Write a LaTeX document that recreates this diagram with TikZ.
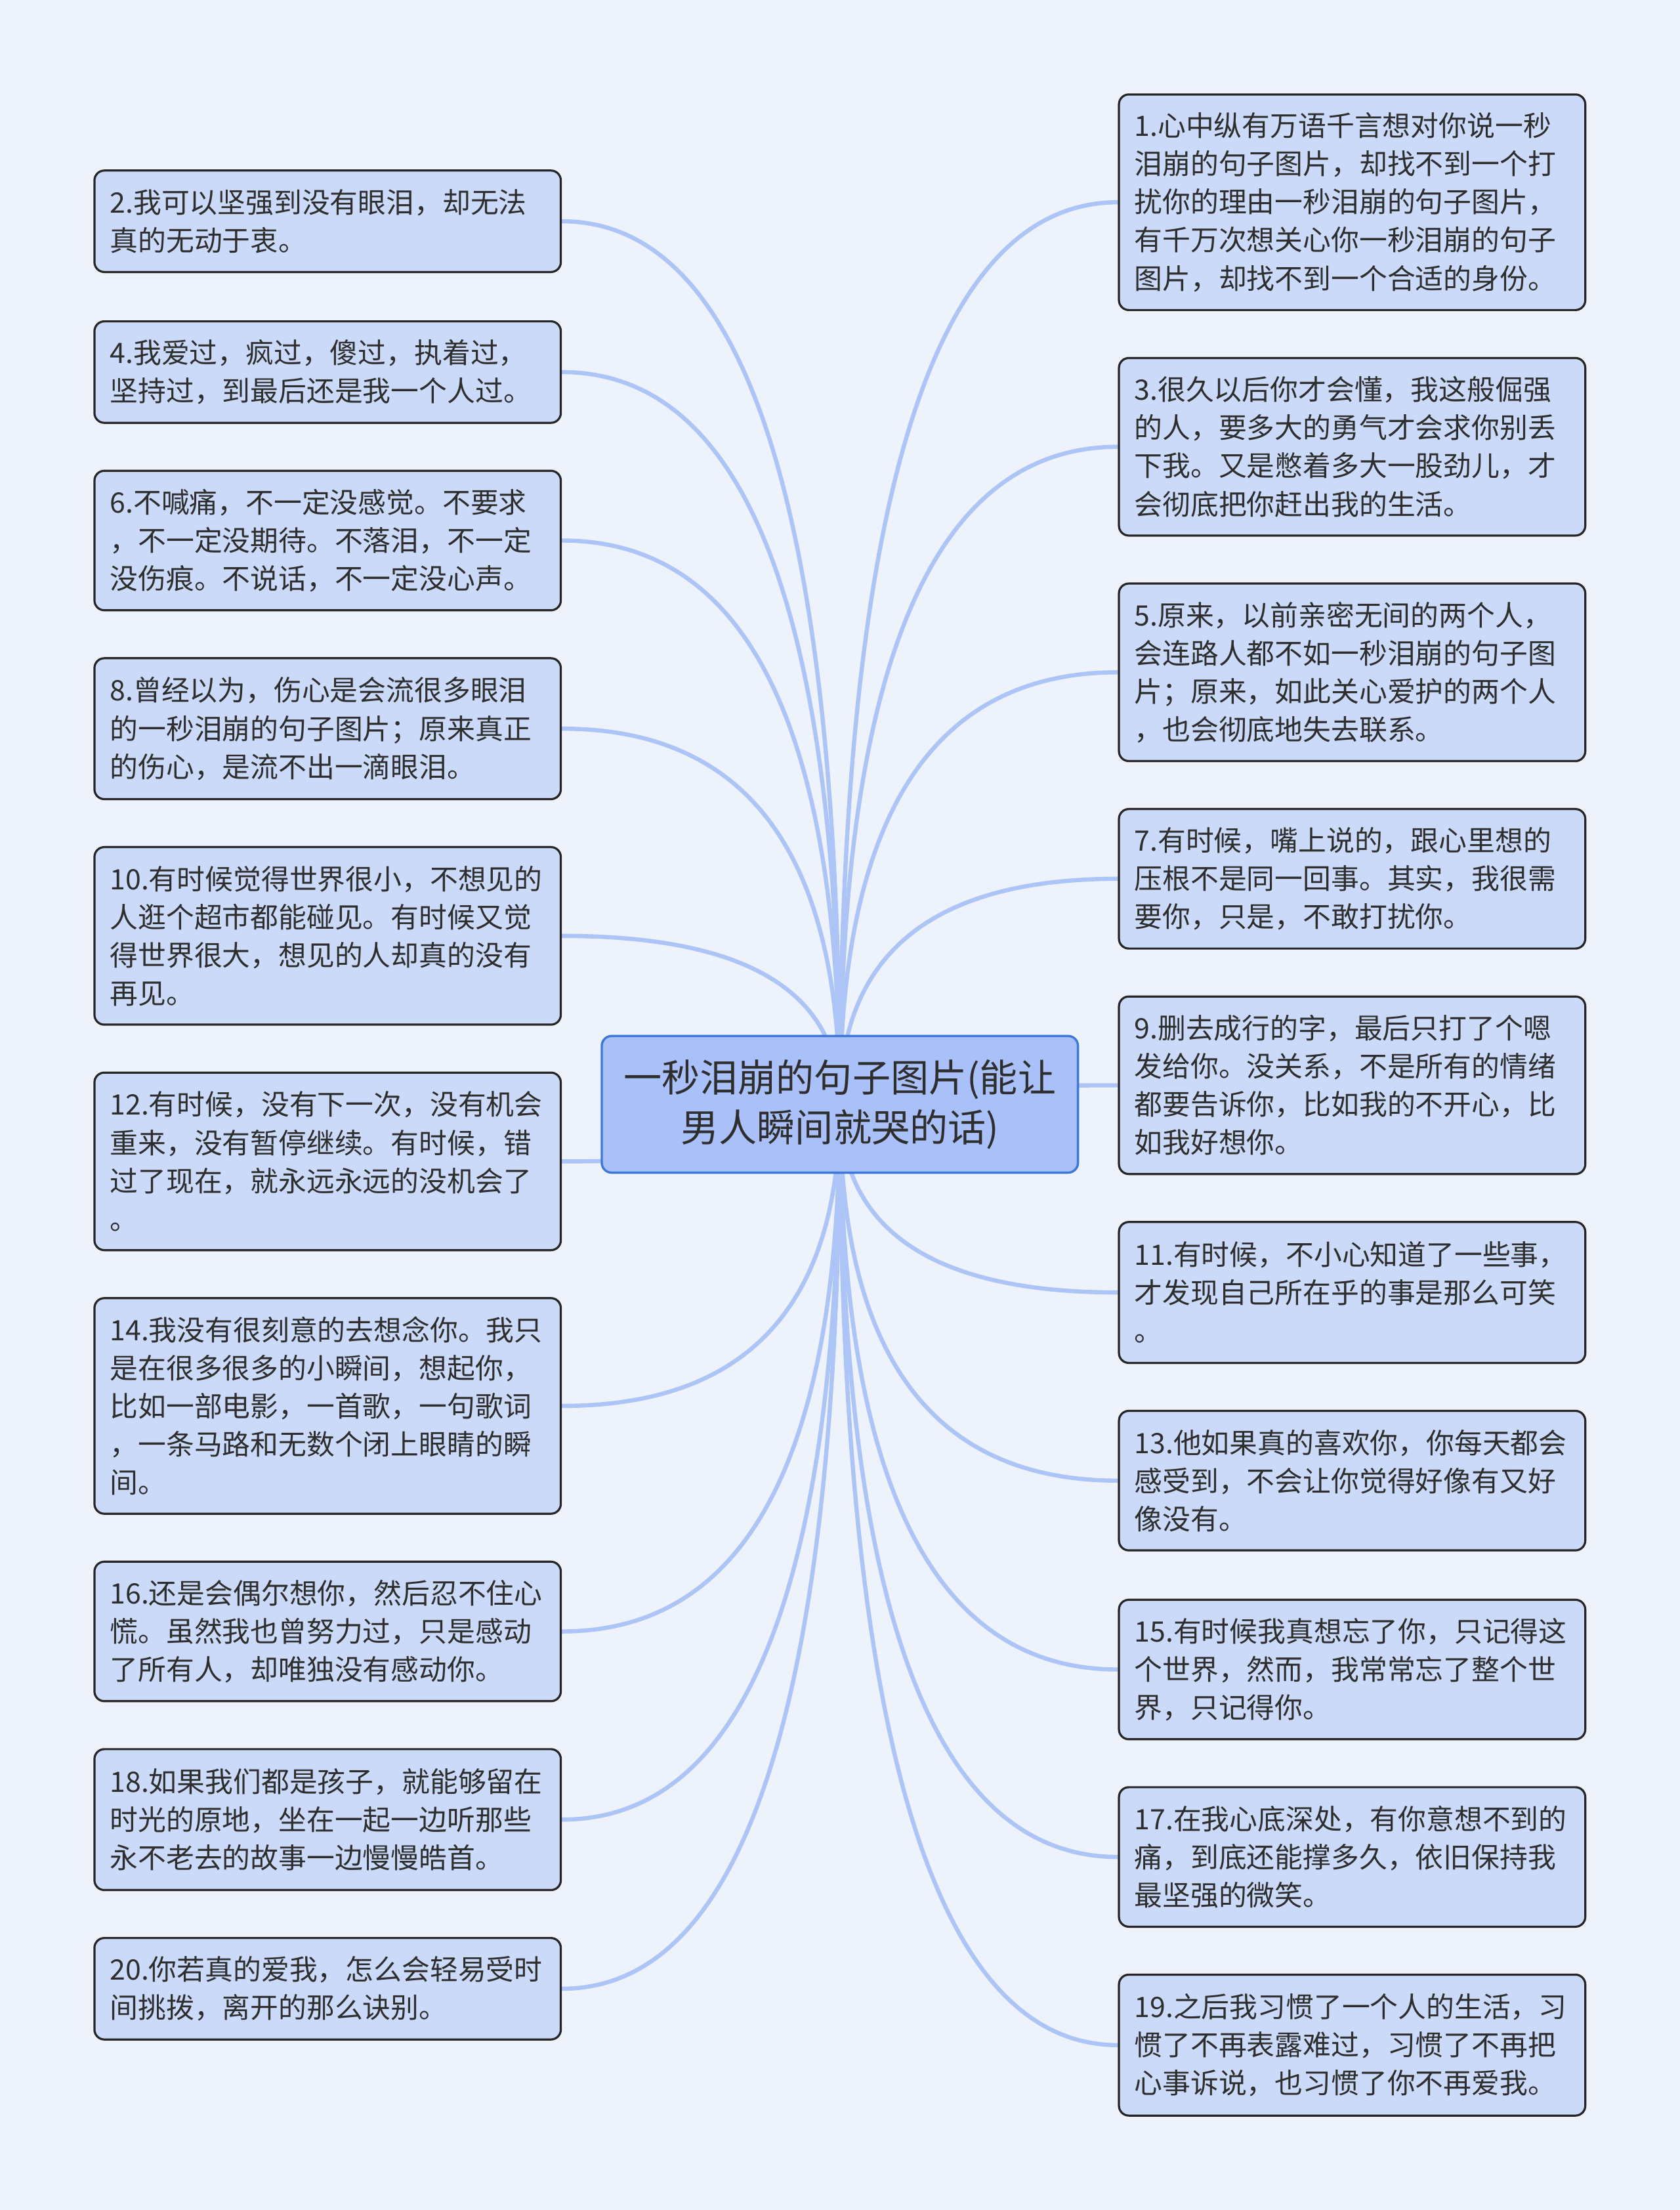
\documentclass[tikz,border=0pt]{standalone}
\usepackage{fontspec}
\newfontfamily\cjkfont{Noto Sans CJK SC}
\usetikzlibrary{calc}
\definecolor{pagebg}{HTML}{EEF3FB}
\definecolor{leaffill}{HTML}{CCDAF9}
\definecolor{topicfill}{HTML}{A9C1F8}
\definecolor{topicline}{HTML}{3C78D8}
\definecolor{linkblue}{HTML}{ADC4F6}
\definecolor{inkgray}{HTML}{2E2E2E}
\pgfdeclarelayer{back}
\pgfdeclarelayer{links}
\pgfsetlayers{back,links,main}

\begin{document}
\begin{tikzpicture}[x=0.02cm, y=-0.02cm,
    topic/.style={draw=topicline, line width=0.9pt, fill=topicfill, rounded corners=0.14cm,
      minimum width=6.76cm, minimum height=1.94cm, align=center, text=inkgray,
      font=\cjkfont\fontsize{15.4pt}{20pt}\selectfont},
    leaf/.style={draw=black!85, line width=0.85pt, fill=leaffill, rounded corners=0.14cm,
      text width=6.18cm, inner xsep=0.22cm, inner ysep=0.1cm, align=left, text=inkgray,
      font=\cjkfont\fontsize{11.35pt}{15.4pt}\selectfont},
    link/.style={draw=linkblue, line width=1.7pt}]
  \begin{pgfonlayer}{back}
    \fill[pagebg] (0,0) rectangle (1192,1568);
  \end{pgfonlayer}

  \node[topic] (root) at (596,783.5) {一秒泪崩的句子图片(能让\\男人瞬间就哭的话)};

  % left column
  \node[leaf, minimum height=1.44cm] (b2) at (232.5,157) {2.我可以坚强到没有眼泪，却无法\\真的无动于衷。};
  \node[leaf, minimum height=1.44cm] (b4) at (232.5,264) {4.我爱过，疯过，傻过，执着过，\\坚持过，到最后还是我一个人过。};
  \node[leaf, minimum height=1.98cm] (b6) at (232.5,383.5) {6.不喊痛，不一定没感觉。不要求\\，不一定没期待。不落泪，不一定\\没伤痕。不说话，不一定没心声。};
  \node[leaf, minimum height=2cm] (b8) at (232.5,517) {8.曾经以为，伤心是会流很多眼泪\\的一秒泪崩的句子图片；原来真正\\的伤心，是流不出一滴眼泪。};
  \node[leaf, minimum height=2.52cm] (b10) at (232.5,664) {10.有时候觉得世界很小，不想见的\\人逛个超市都能碰见。有时候又觉\\得世界很大，想见的人却真的没有\\再见。};
  \node[leaf, minimum height=2.52cm] (b12) at (232.5,824) {12.有时候，没有下一次，没有机会\\重来，没有暂停继续。有时候，错\\过了现在，就永远永远的没机会了\\。};
  \node[leaf, minimum height=3.06cm] (b14) at (232.5,997.5) {14.我没有很刻意的去想念你。我只\\是在很多很多的小瞬间，想起你，\\比如一部电影，一首歌，一句歌词\\，一条马路和无数个闭上眼睛的瞬\\间。};
  \node[leaf, minimum height=1.98cm] (b16) at (232.5,1157.5) {16.还是会偶尔想你，然后忍不住心\\慌。虽然我也曾努力过，只是感动\\了所有人，却唯独没有感动你。};
  \node[leaf, minimum height=2cm] (b18) at (232.5,1291) {18.如果我们都是孩子，就能够留在\\时光的原地，坐在一起一边听那些\\永不老去的故事一边慢慢皓首。};
  \node[leaf, minimum height=1.44cm] (b20) at (232.5,1411) {20.你若真的爱我，怎么会轻易受时\\间挑拨，离开的那么诀别。};

  % right column
  \node[leaf, minimum height=3.06cm] (b1) at (959.5,143.5) {1.心中纵有万语千言想对你说一秒\\泪崩的句子图片，却找不到一个打\\扰你的理由一秒泪崩的句子图片，\\有千万次想关心你一秒泪崩的句子\\图片，却找不到一个合适的身份。};
  \node[leaf, minimum height=2.52cm] (b3) at (959.5,317) {3.很久以后你才会懂，我这般倔强\\的人，要多大的勇气才会求你别丢\\下我。又是憋着多大一股劲儿，才\\会彻底把你赶出我的生活。};
  \node[leaf, minimum height=2.52cm] (b5) at (959.5,477) {5.原来，以前亲密无间的两个人，\\会连路人都不如一秒泪崩的句子图\\片；原来，如此关心爱护的两个人\\，也会彻底地失去联系。};
  \node[leaf, minimum height=1.98cm] (b7) at (959.5,623.5) {7.有时候，嘴上说的，跟心里想的\\压根不是同一回事。其实，我很需\\要你，只是，不敢打扰你。};
  \node[leaf, minimum height=2.52cm] (b9) at (959.5,770) {9.删去成行的字，最后只打了个嗯\\发给你。没关系，不是所有的情绪\\都要告诉你，比如我的不开心，比\\如我好想你。};
  \node[leaf, minimum height=2cm] (b11) at (959.5,917) {11.有时候，不小心知道了一些事，\\才发现自己所在乎的事是那么可笑\\。};
  \node[leaf, minimum height=1.98cm] (b13) at (959.5,1050.5) {13.他如果真的喜欢你，你每天都会\\感受到，不会让你觉得好像有又好\\像没有。};
  \node[leaf, minimum height=1.98cm] (b15) at (959.5,1184.5) {15.有时候我真想忘了你，只记得这\\个世界，然而，我常常忘了整个世\\界，只记得你。};
  \node[leaf, minimum height=1.98cm] (b17) at (959.5,1317.5) {17.在我心底深处，有你意想不到的\\痛，到底还能撑多久，依旧保持我\\最坚强的微笑。};
  \node[leaf, minimum height=2cm] (b19) at (959.5,1451) {19.之后我习惯了一个人的生活，习\\惯了不再表露难过，习惯了不再把\\心事诉说，也习惯了你不再爱我。};

  \begin{pgfonlayer}{links}
    \foreach \n in {b2,b4,b6,b8,b10,b12,b14,b16,b18,b20}
      \draw[link] (root.center) .. controls ($(root.center)!0.667!(root.center |- \n.east)$)
        and ($(\n.east)!0.667!(root.center |- \n.east)$) .. (\n.east);
    \foreach \n in {b1,b3,b5,b7,b9,b11,b13,b15,b17,b19}
      \draw[link] (root.center) .. controls ($(root.center)!0.667!(root.center |- \n.west)$)
        and ($(\n.west)!0.667!(root.center |- \n.west)$) .. (\n.west);
  \end{pgfonlayer}
\end{tikzpicture}
\end{document}
